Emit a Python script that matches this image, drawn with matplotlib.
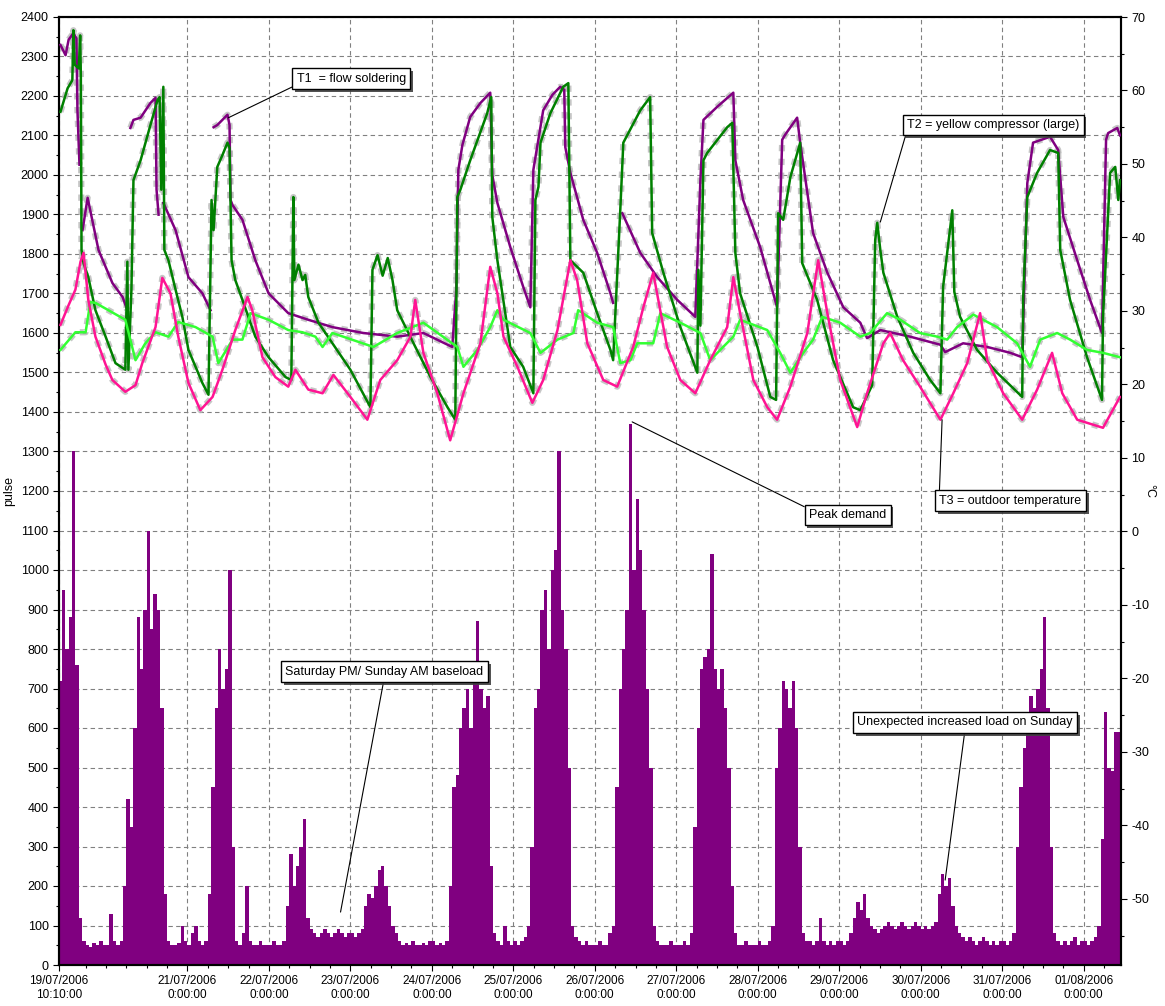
import numpy as np
import matplotlib
matplotlib.use("Agg")
import matplotlib.pyplot as plt
import matplotlib.patheffects as pe

plt.rcParams['font.family'] = ['Liberation Sans', 'DejaVu Sans']
plt.rcParams['axes.unicode_minus'] = False

# hourly pulse counts, one list per day (hour index = hours since 19/07/2006 00:00)
pulse_start_hour = 10
pulse_19_07 = [720, 950, 800, 880, 1300, 760, 120, 60, 50, 45, 55, 50, 60, 50]
pulse_20_07 = [50, 130, 60, 50, 60, 200, 420, 350, 600, 880, 750, 900, 1100, 850, 940, 900, 650, 180, 60, 50, 50, 55, 100, 60]
pulse_21_07 = [50, 80, 100, 60, 50, 60, 180, 450, 650, 800, 700, 750, 1000, 300, 60, 50, 80, 200, 60, 50, 50, 60, 50, 50]
pulse_22_07 = [50, 60, 50, 50, 60, 150, 280, 200, 250, 300, 370, 120, 90, 80, 70, 80, 90, 80, 70, 80, 90, 80, 70, 80]
pulse_23_07 = [80, 70, 80, 90, 150, 180, 170, 200, 240, 250, 200, 150, 100, 80, 60, 50, 55, 50, 60, 50, 50, 55, 50, 60]
pulse_24_07 = [60, 50, 55, 50, 60, 200, 450, 480, 600, 650, 700, 600, 720, 870, 700, 650, 680, 250, 80, 60, 50, 100, 60, 50]
pulse_25_07 = [60, 50, 60, 70, 100, 300, 650, 700, 900, 950, 800, 1000, 1050, 1300, 900, 800, 500, 100, 70, 60, 50, 60, 50, 50]
pulse_26_07 = [50, 60, 50, 50, 80, 100, 450, 700, 800, 900, 1370, 1000, 1180, 1050, 900, 700, 500, 100, 60, 50, 50, 50, 60, 50]
pulse_27_07 = [50, 50, 60, 50, 80, 350, 600, 750, 780, 800, 1040, 750, 700, 750, 650, 500, 200, 80, 50, 50, 60, 50, 50, 50]
pulse_28_07 = [60, 50, 50, 60, 100, 500, 600, 720, 700, 650, 720, 600, 300, 80, 60, 60, 50, 60, 120, 60, 50, 60, 50, 60]
pulse_29_07 = [60, 50, 60, 80, 120, 160, 140, 180, 120, 100, 90, 80, 90, 100, 110, 100, 90, 100, 110, 100, 90, 100, 110, 100]
pulse_30_07 = [90, 100, 90, 100, 110, 180, 230, 200, 220, 150, 100, 80, 70, 60, 70, 60, 50, 60, 70, 60, 50, 60, 50, 60]
pulse_31_07 = [60, 50, 60, 80, 300, 450, 550, 600, 680, 650, 700, 750, 880, 650, 300, 80, 60, 50, 60, 50, 60, 70, 50, 60]
pulse_01_08 = [60, 50, 60, 70, 100, 320, 640, 500, 490, 590, 590]

# temperatures (hour, degC); nan = no reading
t1_flow_soldering = [
    (10.6, 66.2), (12.1, 64.8), (13.0, 66.9), (14.4, 67.8), (15.3, 67.1), (15.6, 57.3), (16.2, 49.9), (16.6, np.nan),
    (17.1, 41.0), (18.6, 45.4), (21.8, 38.3), (25.9, 33.8), (28.9, 31.9), (30.3, 30.1), (30.8, np.nan),
    (31.2, 54.9), (32.1, 56.0), (34.2, 56.3), (37.1, 58.3), (38.6, 59.0), (38.9, 46.5), (39.5, 43.1), (40.2, np.nan),
    (40.9, 44.7), (44.5, 41.0), (48.3, 34.6), (52.4, 32.4), (54.8, 30.1), (55.2, np.nan),
    (55.7, 55.0), (56.8, 55.3), (58.3, 56.0), (59.8, 56.7), (60.4, 55.3), (60.7, 45.1), (61.3, 44.4), (64.2, 42.4),
    (68.0, 36.9), (71.9, 32.4), (77.7, 29.7), (83.6, 28.8), (90.7, 27.8), (99.8, 27.0), (109.8, 26.5), (117.5, 27.0),
    (126.0, 25.1), (127.2, 32.9), (127.8, 49.2), (129.0, 52.6), (131.3, 56.4), (134.3, 58.3), (137.2, 59.7),
    (137.8, 48.5), (139.3, 44.7), (143.1, 38.7), (146.9, 33.3), (149.0, 30.5), (149.9, 49.2), (152.8, 57.3),
    (155.5, 59.4), (157.8, 60.5), (159.0, 60.1), (159.3, 52.3), (160.8, 48.8), (164.6, 42.4), (168.7, 37.9),
    (172.6, 32.4), (173.4, 31.1), (174.5, np.nan),
    (176.1, 43.3), (181.4, 37.9), (186.4, 34.6), (192.3, 31.5), (197.6, 29.2), (199.1, 47.8), (200.0, 56.0),
    (204.1, 57.8), (208.8, 59.7), (209.4, 50.5), (211.7, 45.1), (216.7, 38.7), (221.7, 30.5), (223.2, 53.3),
    (224.1, 54.0), (227.6, 56.3), (228.5, 52.9), (232.3, 40.6), (236.5, 35.2), (241.2, 30.5), (246.2, 28.4),
    (248.2, 26.3), (252.1, 27.4), (255.0, 27.1), (260.9, 26.5), (269.8, 25.4), (271.2, 24.4), (276.5, 25.6),
    (283.6, 25.1), (290.4, 24.3), (293.9, 23.7), (295.4, 47.4), (297.1, 52.9), (302.1, 53.7), (304.5, 51.9),
    (306.0, 42.8), (310.1, 36.9), (313.9, 31.5), (317.4, 27.0), (318.6, 53.3), (319.2, 54.2), (321.9, 54.9),
    (322.7, 53.9),
]
t2_yellow_compressor = [
    (10.6, 57.1), (12.7, 60.3), (14.1, 61.4), (14.4, 68.2), (14.8, 63.5), (16.0, 63.0), (16.4, 67.5), (16.6, 62.0),
    (16.8, 38.3), (17.4, 36.5), (18.8, 34.6), (20.9, 30.1), (23.9, 26.5), (26.8, 22.9), (29.7, 22.0), (30.3, 36.7),
    (30.6, 22.0), (31.5, 32.9), (32.1, 47.8), (34.2, 50.5), (37.1, 55.3), (39.2, 58.7), (39.8, 59.1), (40.3, 46.5),
    (40.9, 60.5), (41.2, 38.3), (42.4, 36.9), (44.5, 32.9), (46.5, 29.2), (48.3, 24.7), (52.4, 20.2), (54.2, 18.6),
    (55.1, 45.1), (55.7, 41.0), (56.8, 49.6), (58.3, 51.2), (59.8, 52.9), (60.4, 52.2), (61.0, 36.9), (62.1, 34.2),
    (64.2, 31.5), (68.0, 26.5), (71.9, 23.7), (76.9, 21.0), (78.6, 20.6), (79.2, 45.5), (79.5, 34.2), (80.7, 36.3),
    (81.9, 34.2), (82.7, 34.9), (83.6, 31.9), (86.6, 28.4), (90.7, 25.6), (96.0, 22.0), (101.9, 16.9), (102.5, 35.6),
    (104.0, 37.6), (105.5, 34.8), (107.0, 37.2), (108.4, 34.2), (109.8, 30.1), (114.6, 25.6), (119.6, 21.0),
    (124.6, 16.9), (126.9, 15.2), (127.5, 45.5), (128.4, 46.5), (131.3, 50.5), (136.3, 56.9), (137.5, 59.1),
    (137.8, 42.8), (139.3, 36.9), (143.1, 25.1), (146.9, 22.4), (149.9, 18.8), (150.5, 45.1), (151.4, 46.9),
    (152.0, 52.9), (154.9, 56.9), (158.7, 60.5), (160.2, 61.0), (160.8, 36.9), (164.6, 35.2), (168.7, 29.7),
    (172.6, 24.7), (173.4, 23.3), (175.5, 43.7), (176.4, 52.9), (181.4, 57.3), (184.3, 59.1), (184.9, 40.6),
    (188.2, 35.2), (193.2, 27.8), (198.2, 21.6), (198.5, 35.6), (199.1, 28.0), (200.0, 50.5), (201.1, 51.5),
    (207.0, 55.0), (208.5, 55.6), (209.4, 37.9), (210.8, 32.4), (215.9, 25.1), (219.7, 18.3), (221.4, 17.9),
    (222.0, 43.3), (223.5, 42.4), (225.6, 48.2), (228.5, 52.9), (229.1, 36.5), (233.5, 31.5), (238.2, 23.3),
    (244.1, 16.9), (246.2, 16.5), (249.7, 19.9), (250.6, 39.7), (251.2, 42.0), (252.1, 38.3), (253.0, 35.2),
    (257.1, 29.2), (261.8, 24.3), (266.8, 20.6), (269.8, 18.8), (270.6, 33.3), (273.3, 43.7), (273.9, 32.6),
    (275.6, 29.2), (280.6, 24.7), (286.5, 21.6), (293.9, 18.3), (294.2, 31.9), (295.4, 45.5), (298.3, 48.8),
    (302.1, 51.9), (304.5, 51.5), (305.1, 38.3), (308.0, 31.5), (313.0, 23.7), (317.4, 17.9), (317.7, 29.2),
    (319.8, 48.8), (321.3, 49.6), (322.2, 45.1), (322.7, 47.8),
]
t4_light_green = [
    (10.6, 24.7), (15.0, 27.1), (18.0, 27.1), (19.4, 31.2), (20.9, 31.1), (29.7, 28.8), (32.7, 23.3), (35.6, 25.6),
    (38.6, 27.1), (42.4, 26.5), (45.3, 28.5), (50.4, 27.8), (55.4, 26.5), (57.1, 22.9), (61.3, 26.1), (64.2, 26.1),
    (66.6, 29.7), (71.9, 28.8), (77.7, 27.4), (81.9, 27.1), (85.7, 26.5), (87.8, 25.1), (90.7, 27.0), (102.8, 25.1),
    (109.8, 27.0), (117.5, 28.4), (127.5, 25.1), (129.3, 22.4), (133.4, 24.7), (137.2, 27.8), (139.3, 30.1),
    (141.1, 28.8), (149.0, 27.0), (152.0, 24.3), (157.0, 26.1), (161.7, 27.0), (163.1, 30.1), (168.7, 28.4),
    (173.4, 27.8), (175.5, 22.9), (178.5, 23.3), (180.5, 25.6), (185.2, 25.6), (187.3, 29.7), (193.2, 28.4),
    (199.1, 27.0), (202.0, 23.3), (205.8, 25.1), (208.8, 26.5), (210.8, 28.8), (218.8, 27.4), (222.6, 24.3),
    (225.6, 21.6), (229.4, 24.3), (232.3, 26.1), (235.0, 29.2), (240.3, 28.4), (246.2, 26.5), (249.1, 27.0),
    (254.1, 29.7), (258.0, 28.8), (263.8, 27.0), (268.9, 26.5), (271.8, 26.1), (274.7, 27.8), (279.5, 29.5),
    (286.5, 27.8), (292.4, 25.6), (296.2, 22.4), (299.2, 26.1), (304.2, 27.0), (308.0, 26.1), (313.0, 24.7),
    (317.7, 24.3), (322.7, 23.7),
]
t3_outdoor = [
    (10.6, 28.1), (13.0, 30.8), (15.0, 32.9), (16.5, 36.7), (17.4, 37.9), (18.8, 31.5), (20.9, 26.5), (23.9, 22.7),
    (25.9, 20.6), (29.7, 19.0), (32.7, 19.9), (34.7, 22.9), (38.6, 27.8), (40.6, 34.5), (43.0, 32.4), (45.3, 26.5),
    (48.3, 20.2), (51.8, 16.5), (55.4, 18.3), (58.3, 22.0), (62.1, 27.4), (65.7, 31.9), (67.1, 30.1), (70.1, 23.7),
    (73.9, 21.0), (77.7, 19.7), (79.8, 22.0), (83.6, 19.3), (87.8, 18.8), (91.0, 21.3), (96.0, 18.3), (101.0, 15.2),
    (104.8, 20.6), (109.8, 23.3), (113.7, 26.5), (115.1, 31.5), (117.5, 24.3), (121.6, 18.8), (125.4, 12.4),
    (129.3, 18.8), (134.3, 25.6), (137.2, 36.0), (139.3, 32.4), (141.1, 26.5), (145.2, 22.4), (149.6, 17.5),
    (152.8, 20.6), (157.0, 27.4), (160.8, 36.9), (162.8, 34.2), (165.8, 25.6), (170.5, 20.6), (174.6, 19.7),
    (179.3, 25.1), (182.3, 30.5), (185.2, 35.2), (186.7, 31.5), (189.3, 25.1), (193.2, 20.6), (197.6, 18.8),
    (202.0, 23.3), (207.0, 27.8), (208.8, 34.6), (210.8, 29.7), (214.7, 20.6), (218.8, 16.9), (221.7, 15.2),
    (225.6, 19.7), (230.6, 27.0), (233.8, 36.9), (236.5, 29.7), (240.3, 20.6), (245.3, 14.2), (248.2, 18.8),
    (253.0, 25.6), (255.0, 27.0), (258.8, 23.3), (263.8, 19.7), (269.8, 15.2), (273.6, 18.8), (277.7, 22.9),
    (281.5, 29.7), (283.6, 23.3), (288.3, 18.8), (293.9, 15.2), (298.3, 19.3), (302.7, 24.3), (305.7, 18.8),
    (310.1, 15.2), (317.7, 14.1), (322.7, 18.3),
]

tick_hours = [10 + 10 / 60, 48, 72, 96, 120, 144, 168, 192, 216, 240, 264, 288, 312]
tick_labels = ['19/07/2006\n10:10:00', '21/07/2006\n0:00:00', '22/07/2006\n0:00:00', '23/07/2006\n0:00:00',
               '24/07/2006\n0:00:00', '25/07/2006\n0:00:00', '26/07/2006\n0:00:00', '27/07/2006\n0:00:00',
               '28/07/2006\n0:00:00', '29/07/2006\n0:00:00', '30/07/2006\n0:00:00', '31/07/2006\n0:00:00',
               '01/08/2006\n0:00:00']

pulse = np.array(pulse_19_07 + pulse_20_07 + pulse_21_07 + pulse_22_07 + pulse_23_07 + pulse_24_07 +
                 pulse_25_07 + pulse_26_07 + pulse_27_07 + pulse_28_07 + pulse_29_07 + pulse_30_07 +
                 pulse_31_07 + pulse_01_08, dtype=float)
pulse_hours = pulse_start_hour + np.arange(len(pulse))

fig = plt.figure(figsize=(11.65, 10.06), dpi=100)
ax = fig.add_axes([59 / 1165, 1 - 965 / 1006, 1062 / 1165, 948 / 1006])
ax2 = ax.twinx()

ax.set_axisbelow(True)
ax.bar(pulse_hours, pulse, width=1.0, align='edge', color='#800080', linewidth=0)

# temperature lines with a grey speckle halo
series = [(t1_flow_soldering, '#800080'), (t2_yellow_compressor, '#008000'),
          (t4_light_green, '#33ff33'), (t3_outdoor, '#ff1493')]
for pts, col in series:
    h, v = zip(*pts)
    ax2.plot(h, v, color='#b8b8b8', lw=4.5, ls=(0, (1, 1.2)), alpha=0.8, zorder=2)
for pts, col in series:
    h, v = zip(*pts)
    ax2.plot(h, v, color=col, lw=1.8, zorder=3)

ax.set_xlim(tick_hours[0], 323.0)
ax.set_ylim(0, 2400)
ax2.set_ylim(-59, 70)
ax.set_yticks(np.arange(0, 2401, 100))
ax.set_yticks(np.arange(50, 2400, 100), minor=True)
ax2.set_yticks(np.arange(-50, 71, 10))
ax2.set_yticks(np.arange(-55, 70, 5), minor=True)
ax.set_xticks(tick_hours)
ax.set_xticklabels(tick_labels)
ax.set_xticks(np.arange(18, 323, 6), minor=True)

ax.grid(True, which='major', color='#808080', ls=(0, (4, 3)), lw=0.8)
for a in (ax, ax2):
    a.tick_params(labelsize=9, length=4, width=0.8, direction='out')
    a.tick_params(which='minor', length=2, width=0.8)
    for s in a.spines.values():
        s.set_linewidth(1.5)
ax.tick_params(axis='x', labelsize=8.5)

ax.set_ylabel('pulse', fontsize=9)
ax.yaxis.set_label_coords(-0.041, 0.5)
ax2.set_ylabel('°C', fontsize=9, rotation=270)
ax2.yaxis.set_label_coords(1.032, 0.5)

shadow = [pe.withSimplePatchShadow(offset=(2, -2), shadow_rgbFace='#404040', alpha=0.9)]
box = dict(boxstyle='square,pad=0.35', fc='white', ec='black', lw=1)


def note(text, xy, xytext, relpos, trans):
    a = ax2.annotate(text, xy=xy, xycoords=trans, xytext=xytext, textcoords=trans,
                     ha='center', va='center', fontsize=9, bbox=box, zorder=10,
                     arrowprops=dict(arrowstyle='-', color='black', lw=0.8, relpos=relpos,
                                     shrinkA=0, shrinkB=0))
    a.get_bbox_patch().set_path_effects(shadow)


note('T1  = flow soldering', (60.1, 56.3), (96.3, 61.6), (0, 0), ax2.transData)
note('T2 = yellow compressor (large)', (252.1, 42.1), (285.3, 55.3), (0, 0), ax2.transData)
note('T3 = outdoor temperature', (270.3, 15.2), (290.4, 4.2), (0, 1), ax2.transData)
note('Peak demand', (179.0, 1375), (242.5, 1139), (0, 1), ax.transData)
note('Saturday PM/ Sunday AM baseload', (93.1, 134), (106.0, 743), (0.5, 0), ax.transData)
note('Unexpected increased load on Sunday', (271.2, 215), (277.1, 614), (0.5, 0), ax.transData)

fig.savefig('out.png', dpi=100)
